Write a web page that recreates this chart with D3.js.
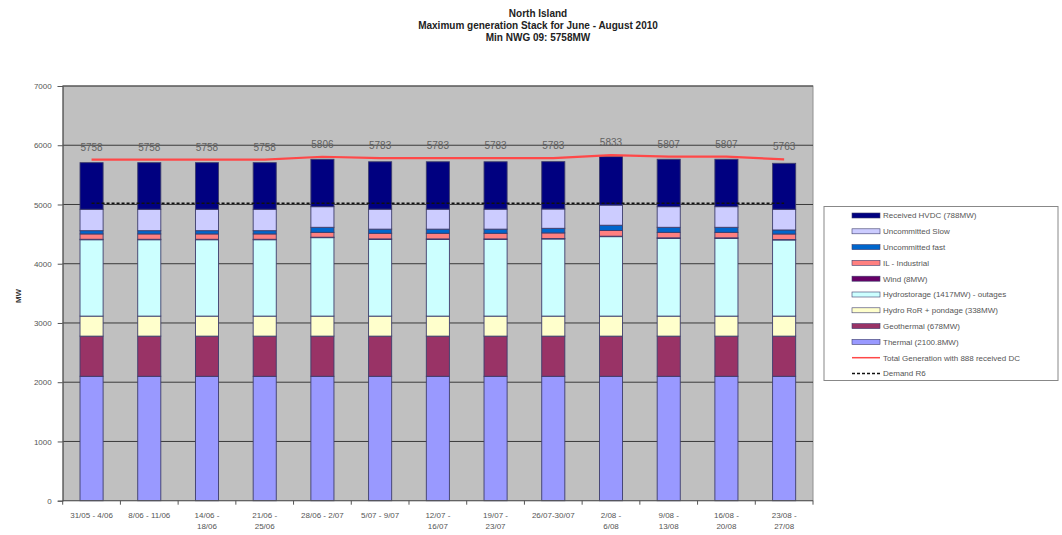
<!DOCTYPE html>
<html>
<head>
<meta charset="utf-8">
<script src="https://cdn.jsdelivr.net/npm/d3@7"></script>
<style>
  html, body { margin: 0; padding: 0; background: #fff; }
  svg { display: block; font-family: "Liberation Sans", Arial, sans-serif; }
</style>
</head>
<body>
<svg id="chart" width="1062" height="535"></svg>
<script>
// ---- data ----
const categories = ["31/05 - 4/06", "8/06 - 11/06", "14/06 - 18/06", "21/06 - 25/06", "28/06 - 2/07",
  "5/07 - 9/07", "12/07 - 16/07", "19/07 - 23/07", "26/07-30/07", "2/08 - 6/08", "9/08 - 13/08",
  "16/08 - 20/08", "23/08 - 27/08"];
const categoryLines = [["31/05 - 4/06"], ["8/06 - 11/06"], ["14/06 -", "18/06"], ["21/06 -", "25/06"], ["28/06 - 2/07"],
  ["5/07 - 9/07"], ["12/07 -", "16/07"], ["19/07 -", "23/07"], ["26/07-30/07"], ["2/08 -", "6/08"], ["9/08 -", "13/08"],
  ["16/08 -", "20/08"], ["23/08 -", "27/08"]];
const thermal      = [2100, 2100, 2100, 2100, 2100, 2100, 2100, 2100, 2100, 2100, 2100, 2100, 2100];
const geothermal   = [678, 678, 678, 678, 678, 678, 678, 678, 678, 678, 678, 678, 678];
const hydroRoR     = [338, 338, 338, 338, 338, 338, 338, 338, 338, 338, 338, 338, 338];
const hydroStorage = [1289, 1289, 1289, 1289, 1324, 1295, 1295, 1295, 1302, 1341, 1313, 1313, 1285];
const wind         = [8, 8, 8, 8, 8, 8, 8, 8, 8, 8, 8, 8, 8];
const ilIndustrial = [90, 90, 90, 90, 82, 95, 95, 95, 94, 95, 93, 93, 93];
const uncFast      = [55, 55, 55, 55, 85, 70, 70, 70, 78, 90, 85, 85, 68];
const uncSlow      = [361, 361, 361, 361, 348, 337, 337, 337, 326, 340, 348, 348, 349];
const hvdc         = [787, 787, 787, 787, 800, 800, 800, 800, 799, 817, 800, 800, 776];
const totalGen     = [5758, 5758, 5758, 5758, 5806, 5783, 5783, 5783, 5783, 5833, 5807, 5807, 5763];
const demandR6     = [5020, 5020, 5020, 5020, 5020, 5020, 5020, 5020, 5020, 5020, 5020, 5020, 5020];
const yTicks = [0, 1000, 2000, 3000, 4000, 5000, 6000, 7000];
const titleLines = ["North Island", "Maximum generation Stack for June - August 2010", "Min NWG 09: 5758MW"];

const seriesNames = ["Thermal (2100.8MW)", "Geothermal (678MW)", "Hydro RoR + pondage (338MW)",
  "Hydrostorage (1417MW) - outages", "Wind (8MW)", "IL - Industrial", "Uncommitted fast",
  "Uncommitted Slow", "Received HVDC (788MW)"];
const seriesValues = [thermal, geothermal, hydroRoR, hydroStorage, wind, ilIndustrial, uncFast, uncSlow, hvdc];
const seriesColors = ["#9999ff", "#993366", "#ffffcc", "#ccffff", "#660066", "#ff8080", "#0066cc", "#ccccff", "#000080"];

// ---- layout ----
const svg = d3.select("#chart");
const plot = { left: 62.7, right: 813, top: 86, bottom: 500.7 };

const x = d3.scaleBand().domain(categories).range([plot.left, plot.right]).paddingInner(0.6).paddingOuter(0.3);
const xStep = x.step();
const y = d3.scaleLinear().domain([0, 7000]).range([plot.bottom, plot.top]);

// title
svg.append("g").selectAll("text").data(titleLines).join("text")
  .attr("x", 538).attr("y", (d, i) => 17 + i * 12)
  .attr("text-anchor", "middle").attr("font-size", 10).attr("font-weight", "bold").attr("fill", "#222")
  .text(d => d);

// plot background
svg.append("rect").attr("x", plot.left).attr("y", plot.top)
  .attr("width", plot.right - plot.left).attr("height", plot.bottom - plot.top)
  .attr("fill", "#c0c0c0").attr("stroke", "#909090").attr("stroke-width", 1);

// gridlines
svg.append("g").selectAll("line").data(yTicks.filter(d => d > 0)).join("line")
  .attr("x1", plot.left).attr("x2", plot.right)
  .attr("y1", d => y(d)).attr("y2", d => y(d))
  .attr("stroke", "#3a3a3a").attr("stroke-width", 1);

// y axis
const yAxis = d3.axisLeft(y).tickValues(yTicks).tickSize(5).tickPadding(6).tickFormat(d3.format("d"));
const gy = svg.append("g").attr("transform", `translate(${plot.left},0)`).call(yAxis);
gy.select(".domain").attr("stroke", "#555");
gy.selectAll(".tick line").attr("stroke", "#555");
gy.selectAll(".tick text").attr("font-size", 8).attr("fill", "#555").attr("font-family", "Liberation Sans, Arial, sans-serif");

svg.append("text").attr("transform", "translate(21,296) rotate(-90)")
  .attr("text-anchor", "middle").attr("font-size", 8).attr("font-weight", "bold").attr("fill", "#333").text("MW");

// stacked bars
const stackRows = categories.map((c, i) => {
  const row = { cat: c };
  seriesNames.forEach((s, k) => { row[s] = seriesValues[k][i]; });
  return row;
});
const stacked = d3.stack().keys(seriesNames)(stackRows);

svg.append("g").selectAll("g").data(stacked).join("g")
  .attr("fill", (d, k) => seriesColors[k])
  .selectAll("rect").data(d => d).join("rect")
  .attr("x", d => x(d.data.cat))
  .attr("width", x.bandwidth())
  .attr("y", d => y(d[1]))
  .attr("height", d => y(d[0]) - y(d[1]))
  .attr("stroke", "#3d3d6c").attr("stroke-width", 0.9);

// x axis
const gx = svg.append("g").attr("transform", `translate(0,${plot.bottom})`);
gx.append("line").attr("x1", plot.left).attr("x2", plot.right).attr("y1", 0).attr("y2", 0).attr("stroke", "#555");
gx.selectAll("line.tk").data(d3.range(categories.length + 1)).join("line").attr("class", "tk")
  .attr("x1", i => plot.left + i * xStep).attr("x2", i => plot.left + i * xStep)
  .attr("y1", 0).attr("y2", 4).attr("stroke", "#555");
const xl = gx.selectAll("text").data(categories).join("text")
  .attr("x", d => x(d) + x.bandwidth() / 2)
  .attr("y", 17)
  .attr("text-anchor", "middle").attr("font-size", 8).attr("fill", "#555");
xl.each(function(d, i) {
  const t = d3.select(this);
  categoryLines[i].forEach((ln, j) => {
    t.append("tspan").attr("x", x(d) + x.bandwidth() / 2).attr("dy", j === 0 ? 0 : 11).text(ln);
  });
});

// lines
const cx = (i) => x(categories[i]) + x.bandwidth() / 2;
const lineGen = d3.line().x((d, i) => cx(i)).y(d => y(d));

svg.append("path").datum(demandR6).attr("d", lineGen)
  .attr("fill", "none").attr("stroke", "#111").attr("stroke-width", 1.6).attr("stroke-dasharray", "3,2");

svg.append("path").datum(totalGen).attr("d", lineGen)
  .attr("fill", "none").attr("stroke", "#ff4848").attr("stroke-width", 2.2);

// data labels
svg.append("g").selectAll("text").data(totalGen).join("text")
  .attr("x", (d, i) => cx(i)).attr("y", d => y(d) - 9)
  .attr("text-anchor", "middle").attr("font-size", 10).attr("fill", "#606060").text(d => d);

// legend
const legendItems = seriesNames.map((n, k) => ({ name: n, color: seriesColors[k], type: "bar" })).reverse()
  .concat([{ name: "Total Generation with 888 received DC", color: "#ff4848", type: "line" },
           { name: "Demand R6", color: "#111", type: "dash" }]);
const lg = svg.append("g");
lg.append("rect").attr("x", 824).attr("y", 206.5).attr("width", 234).attr("height", 174)
  .attr("fill", "#fff").attr("stroke", "#888").attr("stroke-width", 1);
const li = lg.selectAll("g").data(legendItems).join("g")
  .attr("transform", (d, i) => `translate(0,${215.5 + i * 15.8})`);
li.each(function(d) {
  const g = d3.select(this);
  if (d.type === "bar") {
    g.append("rect").attr("x", 852).attr("y", -2.5).attr("width", 28).attr("height", 5)
      .attr("fill", d.color).attr("stroke", "#3d3d6c").attr("stroke-width", 0.6);
  } else if (d.type === "line") {
    g.append("line").attr("x1", 852).attr("x2", 880).attr("y1", 0).attr("y2", 0)
      .attr("stroke", d.color).attr("stroke-width", 1.5);
  } else {
    g.append("line").attr("x1", 852).attr("x2", 880).attr("y1", 0).attr("y2", 0)
      .attr("stroke", d.color).attr("stroke-width", 1.6).attr("stroke-dasharray", "3,2");
  }
});
li.append("text").attr("x", 883).attr("y", 2.8).attr("font-size", 8).attr("fill", "#555").text(d => d.name);
</script>
</body>
</html>
